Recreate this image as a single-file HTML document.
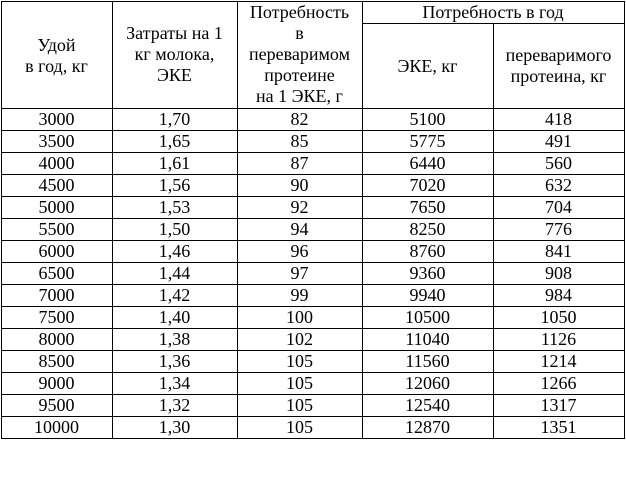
<!DOCTYPE html>
<html><head><meta charset="utf-8"><style>
body{margin:0;background:#fff;width:626px;height:491px;position:relative;overflow:hidden;font-family:"Liberation Serif",serif;font-size:18px;color:#000}
.h{position:absolute;height:1px;background:#000}
.v{position:absolute;width:1px;background:#000}
.t{position:absolute;text-align:center;line-height:21px;white-space:nowrap}
</style></head><body>
<div class="h" style="left:1px;top:1px;width:624px"></div>
<div class="h" style="left:362px;top:23px;width:263px"></div>
<div class="h" style="left:1px;top:108px;width:624px"></div>
<div class="v" style="left:1px;top:1px;height:438px"></div>
<div class="v" style="left:112px;top:1px;height:438px"></div>
<div class="v" style="left:237px;top:1px;height:438px"></div>
<div class="v" style="left:362px;top:1px;height:438px"></div>
<div class="v" style="left:493px;top:23px;height:416px"></div>
<div class="v" style="left:624px;top:1px;height:438px"></div>
<div class="t" style="left:1px;width:111px;top:35px">Удой<br>в год, кг</div>
<div class="t" style="left:112px;width:125px;top:23px">Затраты на 1<br>кг молока,<br>ЭКЕ</div>
<div class="t" style="left:237px;width:125px;top:2px">Потребность<br>в<br>переваримом<br>протеине<br>на 1 ЭКЕ, г</div>
<div class="t" style="left:362px;width:262px;top:2px">Потребность в год</div>
<div class="t" style="left:362px;width:131px;top:56px">ЭКЕ, кг</div>
<div class="t" style="left:493px;width:131px;top:45px">переваримого<br>протеина, кг</div>
<div id="rows"></div>
<script>
var d=[["3000","1,70","82","5100","418"],["3500","1,65","85","5775","491"],["4000","1,61","87","6440","560"],["4500","1,56","90","7020","632"],["5000","1,53","92","7650","704"],["5500","1,50","94","8250","776"],["6000","1,46","96","8760","841"],["6500","1,44","97","9360","908"],["7000","1,42","99","9940","984"],["7500","1,40","100","10500","1050"],["8000","1,38","102","11040","1126"],["8500","1,36","105","11560","1214"],["9000","1,34","105","12060","1266"],["9500","1,32","105","12540","1317"],["10000","1,30","105","12870","1351"]];
var xs=[1,112,237,362,493,624],h="";
d.forEach(function(r,i){var y=108+22*i;
h+='<div class="h" style="left:1px;top:'+(y+22)+'px;width:624px"></div>';
r.forEach(function(c,j){h+='<div class="t" style="left:'+xs[j]+'px;width:'+(xs[j+1]-xs[j])+'px;top:'+(y+1)+'px">'+c+'</div>';});});
document.getElementById("rows").innerHTML=h;
</script>
</body></html>
